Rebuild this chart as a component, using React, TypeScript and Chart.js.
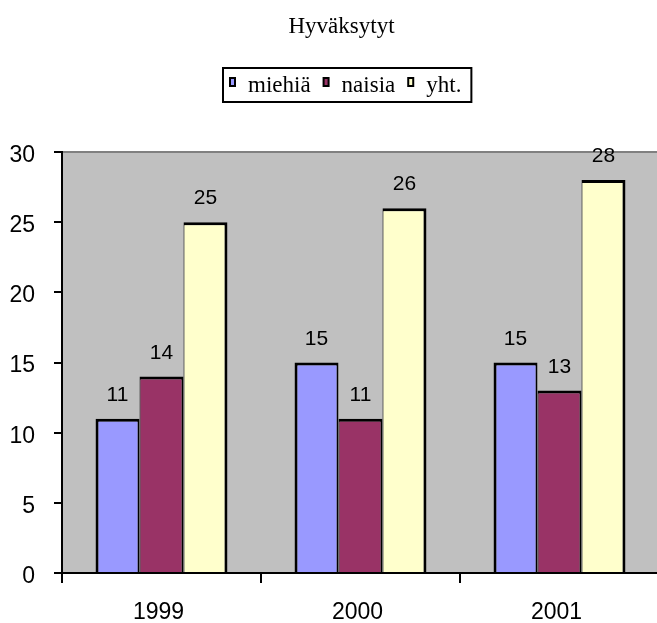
import React, { useEffect, useRef } from "react";
import { Chart, registerables } from "chart.js";

Chart.register(...registerables);

const chartTitle = "Hyväksytyt";
const categories = ["1999", "2000", "2001"];
const seriesNames = ["miehiä", "naisia", "yht."];
const miehia = [11, 15, 15];
const naisia = [14, 11, 13];
const yht = [25, 26, 28];
const seriesColors = ["#9999FF", "#993366", "#FFFFCC"];
const yTicks = [0, 5, 10, 15, 20, 25, 30];

const SANS = "'Liberation Sans', Arial, sans-serif";
const SERIF = "'Liberation Serif', 'Times New Roman', serif";

export default function App() {
  const ref = useRef<HTMLCanvasElement>(null);

  useEffect(() => {
    const canvas = ref.current;
    if (!canvas) return;

    const plotBg = {
      id: "plotBg",
      beforeDraw(chart: any) {
        const { ctx, chartArea: a } = chart;
        ctx.save();
        ctx.fillStyle = "#C0C0C0";
        ctx.fillRect(a.left, a.top, a.right - a.left, a.bottom - a.top);
        ctx.strokeStyle = "#808080";
        ctx.lineWidth = 2;
        ctx.beginPath();
        ctx.moveTo(a.left, a.top);
        ctx.lineTo(a.right, a.top);
        ctx.stroke();
        ctx.restore();
      },
    };

    const decorations = {
      id: "decorations",
      afterDatasetsDraw(chart: any) {
        const ctx = chart.ctx;
        ctx.save();
        ctx.fillStyle = "#000";
        ctx.font = `21px ${SANS}`;
        ctx.textAlign = "center";
        ctx.textBaseline = "alphabetic";
        chart.data.datasets.forEach((ds: any, i: number) => {
          const meta = chart.getDatasetMeta(i);
          meta.data.forEach((el: any, j: number) => {
            ctx.fillText(String(ds.data[j]), el.x, el.y - 18);
          });
        });
        ctx.restore();
      },
      afterDraw(chart: any) {
        const ctx = chart.ctx;
        ctx.save();
        // title
        ctx.fillStyle = "#000";
        ctx.font = `23px ${SERIF}`;
        ctx.textAlign = "center";
        ctx.textBaseline = "alphabetic";
        ctx.fillText(chartTitle, 341.5, 33);

        // legend
        ctx.textAlign = "left";
        const boxL = 222;
        const boxT = 67;
        const boxB = 103;
        let x = 229;
        const items: { mx: number; tx: number; label: string; color: string }[] = [];
        chart.data.datasets.forEach((ds: any) => {
          const w = ctx.measureText(ds.label).width;
          items.push({ mx: x, tx: x + 19, label: ds.label, color: ds.backgroundColor });
          x = x + 19 + w + 12;
        });
        const boxR = x - 12 + 11;
        ctx.strokeStyle = "#000";
        ctx.lineWidth = 2;
        ctx.strokeRect(boxL + 1, boxT + 1, boxR - boxL - 2, boxB - boxT - 2);
        items.forEach((it) => {
          ctx.fillStyle = "#000";
          ctx.fillRect(it.mx, 77, 7, 10);
          ctx.fillStyle = it.color;
          ctx.fillRect(it.mx + 2, 79, 3, 6);
          ctx.fillStyle = "#000";
          ctx.fillText(it.label, it.tx, 92);
        });
        ctx.restore();
      },
    };

    const data = [miehia, naisia, yht];
    const borders = [
      { left: 3, right: 2, top: 3, bottom: 0 },
      { left: 1, right: 2, top: 3, bottom: 0 },
      { left: 1, right: 3, top: 3, bottom: 0 },
    ];

    const chart = new Chart(canvas, {
      type: "bar",
      data: {
        labels: categories,
        datasets: seriesNames.map((name, i) => ({
          label: name,
          data: data[i],
          backgroundColor: seriesColors[i],
          borderColor: "#000",
          borderWidth: borders[i] as any,
          borderSkipped: false as any,
          inflateAmount: 0,
          categoryPercentage: 0.663,
          barPercentage: 1.0,
        })),
      },
      options: {
        responsive: false,
        animation: false,
        devicePixelRatio: 1,
        layout: { padding: { top: 152, left: 0, right: 0, bottom: 0 } },
        plugins: {
          legend: { display: false },
          title: { display: false },
          tooltip: { enabled: false },
        },
        scales: {
          x: {
            type: "category",
            offset: true,
            afterFit: (scale: any) => {
              scale.height = 50;
            },
            grid: {
              display: true,
              drawOnChartArea: false,
              drawTicks: true,
              tickLength: 10,
              color: "#000",
              lineWidth: 2,
              offset: true,
            },
            border: { display: true, color: "#000", width: 2 },
            ticks: {
              color: "#000",
              font: { family: SANS, size: 23 },
              padding: 16,
              labelOffset: -3,
              maxRotation: 0,
              autoSkip: false,
            },
          },
          y: {
            type: "linear",
            min: 0,
            max: 30,
            afterFit: (scale: any) => {
              scale.width = 62;
            },
            afterBuildTicks: (scale: any) => {
              scale.ticks = yTicks.map((v) => ({ value: v }));
            },
            grid: {
              display: true,
              drawOnChartArea: false,
              drawTicks: true,
              tickLength: 8,
              color: "#000",
              lineWidth: 2,
            },
            border: { display: true, color: "#000", width: 2 },
            ticks: {
              color: "#000",
              font: { family: SANS, size: 23 },
              padding: 19,
              labelOffset: 3.5,
              stepSize: 5,
            },
          },
        },
      },
      plugins: [plotBg, decorations],
    });

    return () => chart.destroy();
  }, []);

  return (
    <div
      style={{
        position: "fixed",
        left: 0,
        top: 0,
        width: 657,
        height: 623,
        overflow: "hidden",
        background: "#fff",
      }}
    >
      <canvas ref={ref} width={659} height={623} style={{ display: "block" }} />
    </div>
  );
}
